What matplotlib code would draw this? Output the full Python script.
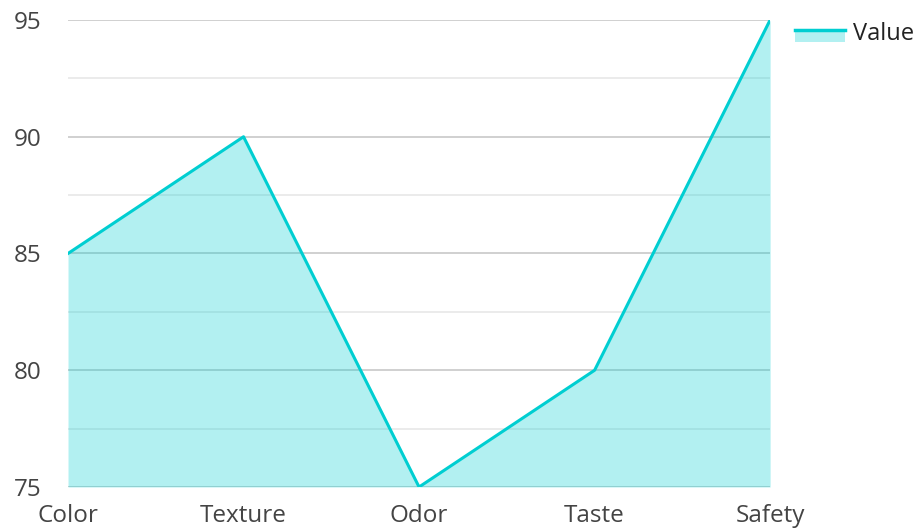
import matplotlib
matplotlib.use("Agg")
import matplotlib.pyplot as plt
from matplotlib.legend_handler import HandlerBase
from matplotlib.patches import Rectangle
from matplotlib.lines import Line2D

categories = ["Color", "Texture", "Odor", "Taste", "Safety"]
values = [85, 90, 75, 80, 95]
series_name = "Value"

line_color = "#00CED1"
text_color = "#444444"

plt.rcParams['font.family'] = ['Open Sans', 'DejaVu Sans']


class AreaHandler(HandlerBase):
    # line on top of a filled patch, like the reference legend swatch
    def create_artists(self, legend, orig_handle, xdescent, ydescent,
                       width, height, fontsize, trans):
        top = height * 0.6
        rect = Rectangle((-xdescent, top - height * 0.75), width, height * 0.75,
                         facecolor=line_color, alpha=0.3, edgecolor="none", transform=trans)
        ln = Line2D([-xdescent, -xdescent + width], [top, top],
                    color=line_color, lw=2.5, transform=trans)
        return [rect, ln]


fig = plt.figure(figsize=(9.19, 5.29), dpi=100)
ax = fig.add_axes([0.074, 0.0794, 0.764, 0.8828])

x = list(range(len(categories)))
ax.fill_between(x, values, 75, color=line_color, alpha=0.3, lw=0, zorder=3)
line, = ax.plot(x, values, color=line_color, lw=2.2, zorder=4, label=series_name)

ax.set_xlim(0, len(categories) - 1)
ax.set_ylim(75, 95)
ax.set_yticks([75, 80, 85, 90, 95])
ax.set_yticks([77.5, 82.5, 87.5, 92.5], minor=True)
ax.set_xticks(x)
ax.set_xticklabels(categories)

ax.grid(axis="y", which="major", color="#c8c8c8", lw=1.2, zorder=1)
ax.grid(axis="y", which="minor", color="#e8e8e8", lw=1.2, zorder=1)
ax.grid(axis="x", visible=False)
for s in ax.spines.values():
    s.set_visible(False)

ax.tick_params(axis="both", which="both", length=0, labelsize=17.5, labelcolor=text_color)
ax.tick_params(axis="y", pad=19)
ax.tick_params(axis="x", pad=12)

leg = ax.legend(handles=[line], labels=[series_name], handler_map={Line2D: AreaHandler()},
                loc="upper left", bbox_to_anchor=(1.022, 1.017), frameon=False,
                fontsize=17, handlelength=2.1, handletextpad=0.35, borderaxespad=0)
for t in leg.get_texts():
    t.set_color("#222222")

fig.savefig("out.png", dpi=100)
